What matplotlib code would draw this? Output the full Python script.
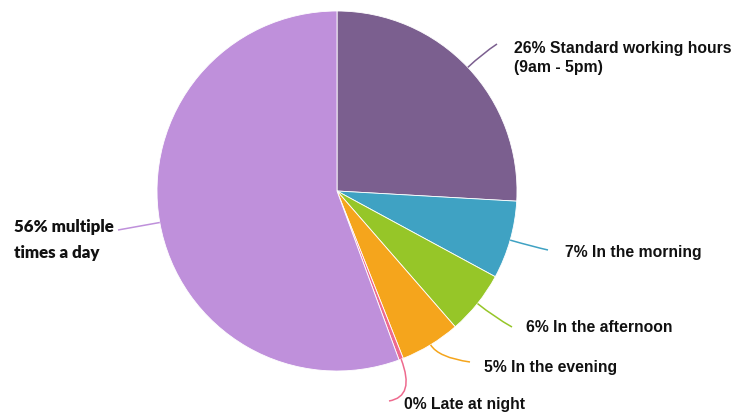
import numpy as np
import matplotlib
matplotlib.use('Agg')
import matplotlib.pyplot as plt
from matplotlib.path import Path
from matplotlib.patches import PathPatch

# Slice data (clockwise from 12 o'clock)
labels = ['26% Standard working hours\n(9am - 5pm)', '7% In the morning', '6% In the afternoon',
          '5% In the evening', '0% Late at night', '56% multiple\ntimes a day']
shares = [25.9, 7.0, 5.7, 5.4, 0.4, 55.6]
colors = ['#7b5f8f', '#3fa2c3', '#96c628', '#f5a51c', '#ee6a8e', '#bf90db']

W, H = 751, 414
fig = plt.figure(figsize=(W / 100, H / 100), dpi=100)
ax = fig.add_axes([0, 0, 1, 1])

cx, cy, r = 337, H - 192, 180
wedges, _ = ax.pie(shares, colors=colors, startangle=90, counterclock=False,
                   center=(cx, cy), radius=r,
                   wedgeprops=dict(edgecolor='white', linewidth=0.6))
ax.set_xlim(0, W)
ax.set_ylim(0, H)
ax.set_aspect('equal')
ax.axis('off')

# leader end points and text anchors (pixel layout, y from top)
ends = [(497, 45), (548, 251), (512, 328), (470, 363), (389, 402), (118, 231)]
ctrl_len = [20, 25, 22, 15, 40, 10]
texts = [(514, 58, 'left'), (565, 253, 'left'), (526, 328, 'left'),
         (484, 368, 'left'), (404, 405, 'left'), (14, 240, 'left')]

for w, lab, col, (ex, ey), cl, (tx, ty, ha) in zip(wedges, labels, colors, ends, ctrl_len, texts):
    mid = np.deg2rad((w.theta1 + w.theta2) / 2)
    sx, sy = cx + r * np.cos(mid), cy + r * np.sin(mid)
    kx, ky = cx + (r + cl) * np.cos(mid), cy + (r + cl) * np.sin(mid)
    path = Path([(sx, sy), (kx, ky), (ex, H - ey)], [Path.MOVETO, Path.CURVE3, Path.CURVE3])
    ax.add_patch(PathPatch(path, fill=False, edgecolor=col, linewidth=1.1))
    if lab.startswith('56%'):
        ax.text(tx, H - ty, lab, ha=ha, va='center', fontsize=12.2, family='Lato',
                fontweight='heavy', linespacing=1.75, color='#111111')
    else:
        ax.text(tx, H - ty, lab, ha=ha, va='center',
                fontsize=11.3, family='Liberation Sans', fontweight='bold',
                linespacing=1.3, color='#111111')

fig.savefig('out.png', dpi=100)
